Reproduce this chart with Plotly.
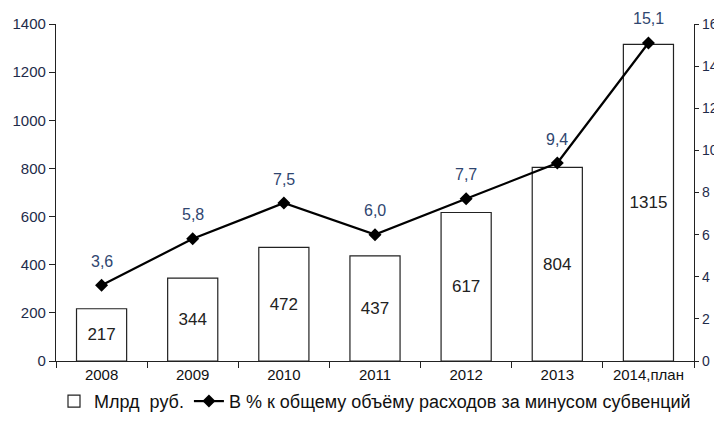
import plotly.graph_objects as go

years = ["2008", "2009", "2010", "2011", "2012", "2013", "2014,план"]
bln_rub = [217, 344, 472, 437, 617, 804, 1315]
pct = [3.6, 5.8, 7.5, 6.0, 7.7, 9.4, 15.1]
pct_labels = [f"{v:.1f}".replace(".", ",") for v in pct]

FONT = "Liberation Sans Narrow, Liberation Sans, Arial"
TICKC = "#1e2b4a"
LBLC = "#2f4670"

fig = go.Figure()
fig.add_trace(go.Bar(
    x=years, y=bln_rub, name="Млрд  руб.",
    marker=dict(color="white", line=dict(color="#222", width=1.2)),
    width=0.55,
    text=[str(v) for v in bln_rub], textposition="inside",
    insidetextanchor="middle", textangle=0,
    textfont=dict(family="Liberation Sans, Arial", size=17, color="#222"),
    yaxis="y",
))
fig.add_trace(go.Scatter(
    x=years, y=pct, name="В % к общему объёму расходов за минусом субвенций",
    mode="lines+markers",
    line=dict(color="black", width=2.2),
    marker=dict(symbol="diamond", size=10, color="black"),
    yaxis="y2", cliponaxis=False,
))
# annotation x on a category axis: use the category index
for i, (y, t) in enumerate(zip(pct, pct_labels)):
    fig.add_annotation(x=i, y=y, xref="x", yref="y2", text=t, showarrow=False,
                       yshift=24, font=dict(family="Liberation Sans, Arial", size=16, color=LBLC))

fig.update_layout(
    width=712, height=418,
    margin=dict(l=48, r=26, t=16, b=65, autoexpand=False),
    paper_bgcolor="white", plot_bgcolor="white",
    showlegend=True,
    legend=dict(orientation="h", x=0.5, xanchor="center", y=-0.065, yanchor="top",
                font=dict(family=FONT, size=18, color="#111"),
                tracegroupgap=0),
    bargap=0.45,
    xaxis=dict(
        type="category", categoryorder="array", categoryarray=years,
        range=[-0.5, len(years) - 0.5],
        showline=True, linecolor="#222", linewidth=1.2,
        ticks="outside", ticklen=6, tickcolor="#222", tickson="boundaries",
        tickfont=dict(family=FONT, size=15, color="#111"),
        showgrid=False,
    ),
    yaxis=dict(
        range=[0, 1400], tickvals=list(range(0, 1401, 200)),
        showline=True, linecolor="#222", linewidth=1.2,
        ticks="outside", ticklen=6, tickcolor="#222",
        tickfont=dict(family="Liberation Sans, Arial", size=15, color=TICKC),
        showgrid=False, zeroline=False,
    ),
    yaxis2=dict(
        range=[0, 16], tickvals=list(range(0, 17, 2)),
        overlaying="y", side="right",
        showline=True, linecolor="#222", linewidth=1.2,
        ticks="outside", ticklen=4, tickcolor="#222",
        tickfont=dict(family="Liberation Sans, Arial", size=14, color=TICKC),
        showgrid=False, zeroline=False,
    ),
)

fig.write_html("out.html")
